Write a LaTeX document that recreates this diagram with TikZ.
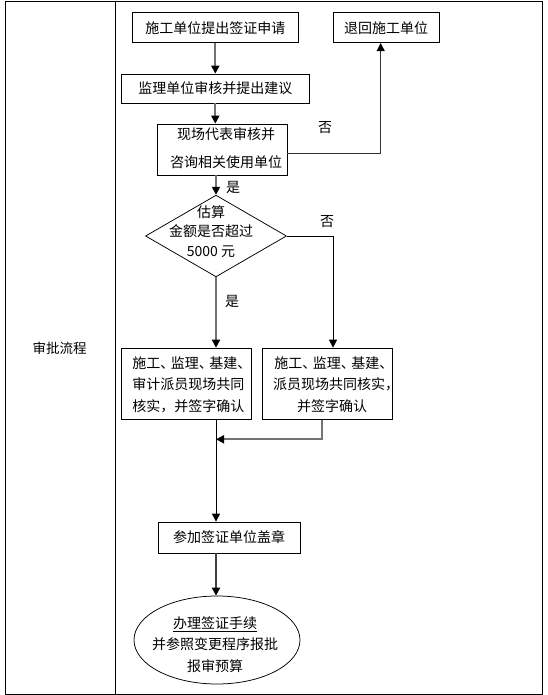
\documentclass[tikz,border=0pt]{standalone}
\usepackage{fontspec}
\newfontfamily\cjk{Noto Sans CJK SC}
\usetikzlibrary{shapes.geometric,arrows.meta}
\newcommand\pdun{\makebox[10.5pt][l]{、}}
\newcommand\pcom{\makebox[6pt][l]{，}}
\begin{document}
\begin{tikzpicture}[x=1pt,y=-1pt,
  every node/.style={font=\cjk\fontsize{14pt}{21pt}\selectfont},
  box/.style={draw=black,line width=0.75pt,inner sep=0pt,align=center},
  txt/.style={inner sep=0pt},
  garrow/.style={draw=black!55,line width=1.8pt,-{Triangle[width=8pt,length=8pt,color=black]}},
  darrow/.style={draw=black!75,line width=1.8pt,-{Triangle[width=8pt,length=8pt,color=black]}},
  barrow/.style={draw=black,line width=0.8pt,-{Triangle[width=8pt,length=8pt,color=black]}},
  tarrow/.style={draw=black!80,line width=1pt,-{Triangle[width=8pt,length=8pt,color=black]}}
]
\useasboundingbox (0,0) rectangle (547,695);
% table
\draw[line width=0.9pt] (5.3,1.7) rectangle (542.3,694);
\draw[line width=0.9pt] (115,1.7) -- (115,694);
\node[font=\cjk\fontsize{13.5pt}{16pt}\selectfont] (lab) at (59.5,348.5) {审批流程};

% boxes
\node[box,minimum width=165.3pt,minimum height=30pt] (apply) at (215.3,27.7) {施工单位提出签证申请};
\node[box,minimum width=106pt,minimum height=30pt] (back) at (386,27.7) {退回施工单位};
\node[box,minimum width=187.3pt,minimum height=29pt] (sup) at (215.3,88.5) {监理单位审核并提出建议};
\node[box,minimum width=130pt,minimum height=51pt] (rep) at (222,149.5) {};
\node[txt,align=center,font=\cjk\fontsize{14pt}{28pt}\selectfont] (rept) at (226,148.5) {现场代表审核并\\咨询相关使用单位};

\node[diamond,draw=black,line width=0.75pt,inner sep=0pt,minimum width=141pt,minimum height=81.7pt] (dec) at (216,236) {};
\node[txt,align=center,font=\cjk\fontsize{14pt}{19.5pt}\selectfont] (dect) at (211,231.5) {估算\\金额是否超过\\5000 元};

\node[box,minimum width=130pt,minimum height=71.3pt] (ja) at (186.7,383.7) {};
\node[txt,align=left,font=\cjk\fontsize{14pt}{21.3pt}\selectfont] (jat) at (190,384.7) {施工\pdun 监理\pdun 基建\pdun\\审计派员现场共同\\核实，并签字确认};
\node[box,minimum width=130pt,minimum height=71.3pt] (jb) at (327.7,383.7) {};
\node[txt,align=center,font=\cjk\fontsize{14pt}{21.3pt}\selectfont] (jbt) at (332,384.7) {施工\pdun 监理\pdun 基建\pdun\\派员现场共同核实\pcom\\并签字确认};

\node[box,minimum width=142pt,minimum height=31pt] (fin) at (229,537.5) {参加签证单位盖章};
\node[ellipse,draw=black,line width=0.75pt,inner sep=0pt,minimum width=166pt,minimum height=88pt] (end) at (217,640) {};
\node[txt,align=center,font=\cjk\fontsize{14pt}{21.3pt}\selectfont] (endt) at (215,644.5) {\underline{办理签证手续}\\并参照变更程序报批\\报审预算};

% labels
\node (no1) at (325,128) {否};
\node (yes1) at (233,187.5) {是};
\node (no2) at (327,221.7) {否};
\node (yes2) at (232,301.7) {是};

\coordinate (m) at (216,439.3);

% connectors
\draw[garrow] (apply.south) -- (sup.north);
\draw[garrow] (sup.south) -- (sup.south |- rep.north);
\draw[tarrow] ([yshift=-4.5pt]rep.east) -| ([xshift=-5.3pt]back.south);
\draw[garrow] (rep.south -| dec.north) -- (dec.north);
\draw[garrow] (dec.south) -- (dec.south |- ja.north);
\draw[barrow] (dec.east) -| ([xshift=5.3pt]jb.north);
\draw[garrow] ([xshift=-6pt]jb.south) |- (m);
\draw[barrow] (ja.south -| m) -- (fin.north -| m);
\draw[darrow] (fin.south -| m) -- (end.north -| m);
\end{tikzpicture}
\end{document}
